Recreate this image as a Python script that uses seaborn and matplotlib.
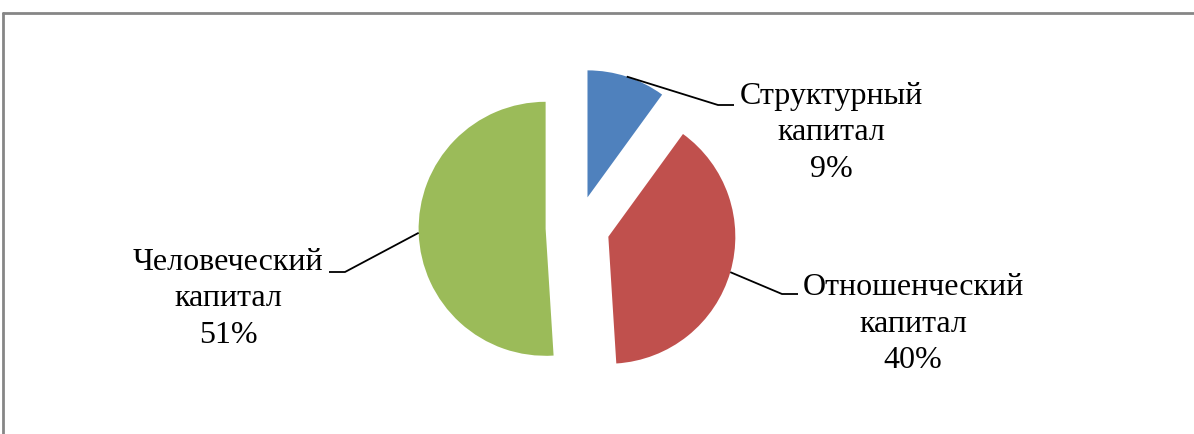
import math
import matplotlib
matplotlib.use("Agg")
import matplotlib.pyplot as plt
import seaborn as sns

# ---- data ----
categories = ["Структурный\nкапитал", "Отношенческий\nкапитал", "Человеческий\nкапитал"]
values = [10, 39, 51]          # slice sizes
pct_labels = ["9%", "40%", "51%"]  # printed data labels
colors = ["#4F81BD", "#C0504D", "#9BBB59"]

sns.set_theme(style="white")
plt.rcParams["font.family"] = ["Liberation Serif", "DejaVu Serif"]

W, H = 1194, 434
fig = plt.figure(figsize=(W / 100, H / 100), dpi=100)
ax = fig.add_axes([0, 0, 1, 1])
ax.set_xlim(0, W)
ax.set_ylim(0, H)
ax.set_axis_off()

center = (577.6, H - 227.8)
radius = 127
expl = 32

wedges, _ = ax.pie(values, colors=sns.color_palette(colors), startangle=90,
                   counterclock=False, center=center, radius=radius,
                   explode=[expl] * len(values), frame=False,
                   wedgeprops=dict(linewidth=0))
ax.set_xlim(0, W)
ax.set_ylim(0, H)
ax.set_aspect("equal")

# label layout: text center (x, y in image px), elbow point, elbow end
layout = [
    dict(text=(831, 133), elbow=(718, 105), end=(734, 105)),
    dict(text=(913, 324), elbow=(782, 294), end=(798, 294)),
    dict(text=(228, 299), elbow=(345, 272), end=(329, 272)),
]

for w, cat, pct, lay in zip(wedges, categories, pct_labels, layout):
    ang = math.radians(0.5 * (w.theta1 + w.theta2))
    cx, cy = w.center
    sx = cx + w.r * math.cos(ang)
    sy = cy + w.r * math.sin(ang)
    ex, ey = lay["elbow"]
    tx, ty = lay["end"]
    ax.plot([sx, ex, tx], [sy, H - ey, H - ty], color="black", lw=1.3,
            solid_capstyle="butt")
    ax.text(lay["text"][0], H - lay["text"][1], cat + "\n" + pct,
            ha="center", va="center", fontsize=23, linespacing=1.33,
            color="black")

# chart frame (top and left visible)
ax.plot([3, W + 10], [H - 12.5, H - 12.5], color="#868686", lw=2, clip_on=False)
ax.plot([3, 3], [H - 12.5, -10], color="#868686", lw=2, clip_on=False)

fig.savefig("out.png", dpi=100)
